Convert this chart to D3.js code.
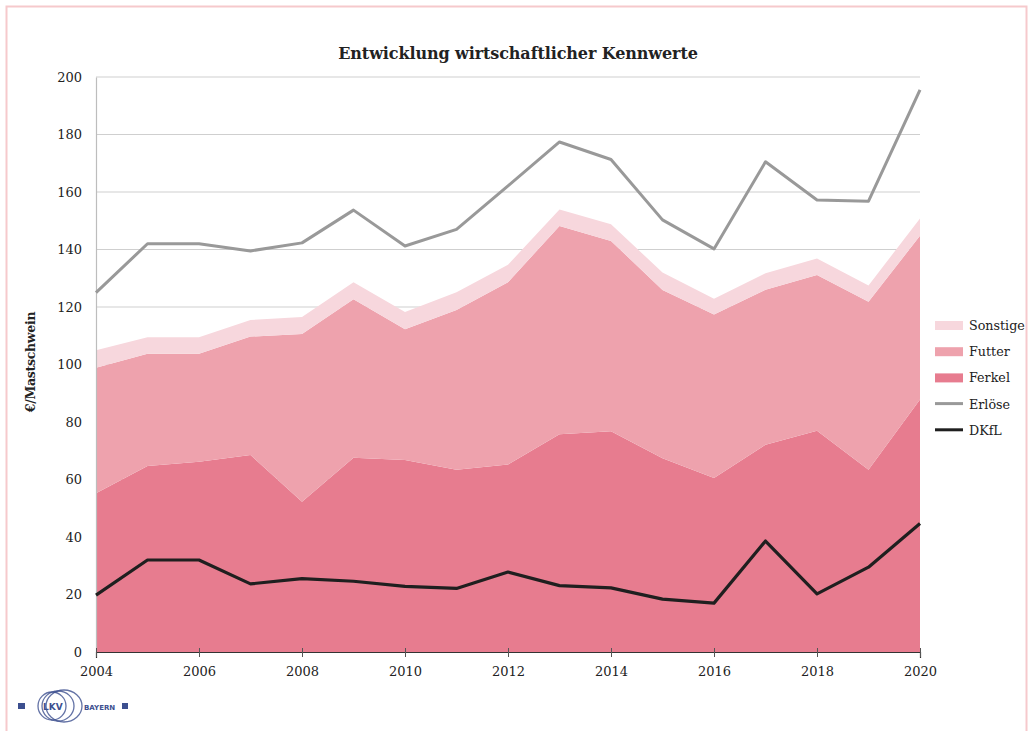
<!DOCTYPE html>
<html>
<head>
<meta charset="utf-8">
<script src="https://cdn.jsdelivr.net/npm/d3@7/dist/d3.min.js"></script>
<style>
  html, body { margin: 0; padding: 0; background: #fff; }
  svg text { font-family: "DejaVu Serif", "Liberation Serif", serif; fill: #222; }
</style>
</head>
<body>
<svg id="chart" width="1034" height="731"></svg>
<script>
// Jahreswerte in €/Mastschwein
const years    = [2004, 2005, 2006, 2007, 2008, 2009, 2010, 2011, 2012, 2013, 2014, 2015, 2016, 2017, 2018, 2019, 2020];
const ferkel   = [55.2, 64.7, 66.2, 68.5, 52.3, 67.6, 66.8, 63.4, 65.2, 75.7, 76.8, 67.4, 60.5, 72.1, 77.0, 63.4, 87.8];
const futter   = [43.7, 39.0, 37.5, 41.2, 58.3, 55.1, 45.5, 55.6, 63.4, 72.5, 66.2, 58.5, 56.9, 53.9, 54.1, 58.4, 57.0];
const sonstige = [6.1, 5.8, 5.8, 5.8, 5.9, 5.9, 6.0, 6.1, 6.1, 5.7, 5.8, 6.1, 5.5, 5.7, 5.8, 5.7, 6.0];
const erloese  = [125.0, 142.0, 142.0, 139.5, 142.3, 153.7, 141.2, 147.0, 162.1, 177.4, 171.3, 150.3, 140.2, 170.5, 157.2, 156.8, 195.5];
const dkfl     = [19.8, 32.0, 32.0, 23.7, 25.5, 24.6, 22.8, 22.1, 27.8, 23.1, 22.3, 18.4, 17.0, 38.6, 20.2, 29.5, 44.7];
const yTicks   = [0, 20, 40, 60, 80, 100, 120, 140, 160, 180, 200];
const xTicks   = [2004, 2006, 2008, 2010, 2012, 2014, 2016, 2018, 2020];

const title = "Entwicklung wirtschaftlicher Kennwerte";
const yLabel = "€/Mastschwein";

const colors = { Ferkel: "#e77c8f", Futter: "#eea2ad", Sonstige: "#f7d7dd", Erlöse: "#999999", DKfL: "#1f1f1f" };
const serif = "DejaVu Serif, Liberation Serif, serif";

const svg = d3.select("#chart");
const margin = { left: 96, right: 114, top: 77, bottom: 79 };
const W = 1034, H = 731;

const x = d3.scaleLinear().domain([2004, 2020]).range([margin.left, W - margin.right]);
const y = d3.scaleLinear().domain([0, 200]).range([H - margin.bottom, margin.top]);

// Rahmen
svg.append("rect")
  .attr("x", 6.5).attr("y", 6.5).attr("width", 1020).attr("height", 740)
  .attr("fill", "none").attr("stroke", "#f6c9cc").attr("stroke-width", 2);

// Titel
svg.append("text")
  .attr("x", 518).attr("y", 59)
  .attr("text-anchor", "middle")
  .attr("font-size", 16).attr("font-weight", "bold")
  .attr("letter-spacing", -0.1)
  .text(title);

// Gitterlinien
svg.append("g")
  .selectAll("line")
  .data(yTicks.filter(d => d > 0))
  .join("line")
  .attr("x1", x(2004)).attr("x2", x(2020))
  .attr("y1", d => y(d)).attr("y2", d => y(d))
  .attr("stroke", "#cfcfcf").attr("stroke-width", 1);

// Gestapelte Kostenflächen
const rows = years.map((yr, i) => ({ year: yr, Ferkel: ferkel[i], Futter: futter[i], Sonstige: sonstige[i] }));
const stack = d3.stack().keys(["Ferkel", "Futter", "Sonstige"]);
const layers = stack(rows);
const area = d3.area()
  .x(d => x(d.data.year))
  .y0(d => y(d[0]))
  .y1(d => y(d[1]));

svg.append("g")
  .selectAll("path")
  .data(layers)
  .join("path")
  .attr("d", area)
  .attr("fill", d => colors[d.key]);

// y-Achse
const yAxis = d3.axisLeft(y).tickValues(yTicks).tickSize(0).tickPadding(14);
const gy = svg.append("g").attr("transform", `translate(${x(2004)},0)`).call(yAxis);
gy.select(".domain").attr("stroke", "#bdbdbd").attr("stroke-width", 1.2);
gy.selectAll("text").attr("font-size", 13).attr("font-family", serif).attr("fill", "#222");

// x-Achse
const xAxis = d3.axisBottom(x).tickValues(xTicks).tickFormat(d3.format("d")).tickSize(6).tickPadding(9);
const gx = svg.append("g").attr("transform", `translate(0,${y(0)})`).call(xAxis);
gx.select(".domain").attr("stroke", "#333").attr("stroke-width", 1.2);
gx.selectAll(".tick line").attr("stroke", "#555").attr("y1", -4).attr("y2", 5);
gx.selectAll("text").attr("font-size", 13).attr("font-family", serif).attr("fill", "#222");

// Linien
const line = d3.line().x((d, i) => x(years[i])).y(d => y(d));
svg.append("path").datum(erloese).attr("d", line)
  .attr("fill", "none").attr("stroke", colors["Erlöse"]).attr("stroke-width", 3).attr("stroke-linejoin", "round");
svg.append("path").datum(dkfl).attr("d", line)
  .attr("fill", "none").attr("stroke", colors.DKfL).attr("stroke-width", 3.2).attr("stroke-linejoin", "round");

// y-Achsentitel
svg.append("text")
  .attr("transform", `translate(35,362) rotate(-90)`)
  .attr("text-anchor", "middle")
  .attr("font-size", 12.5).attr("font-weight", "bold")
  .attr("letter-spacing", -0.3)
  .text(yLabel);

// Legende
const legendItems = [
  { key: "Sonstige", type: "area" },
  { key: "Futter", type: "area" },
  { key: "Ferkel", type: "area" },
  { key: "Erlöse", type: "line" },
  { key: "DKfL", type: "line" }
];
const lg = svg.append("g").attr("transform", "translate(935,325)");
const li = lg.selectAll("g").data(legendItems).join("g")
  .attr("transform", (d, i) => `translate(0,${i * 26.2})`);
li.filter(d => d.type === "area").append("rect")
  .attr("x", 0).attr("y", -4).attr("width", 28).attr("height", 9)
  .attr("fill", d => colors[d.key]);
li.filter(d => d.type === "line").append("line")
  .attr("x1", 0).attr("x2", 28).attr("y1", 0).attr("y2", 0)
  .attr("stroke", d => colors[d.key]).attr("stroke-width", 3);
li.append("text")
  .attr("x", 34).attr("y", 5)
  .attr("font-size", 12.7)
  .text(d => d.key);

// Logo LKV Bayern
const logo = svg.append("g").attr("transform", "translate(18,706)");
const blue = "#3c4f8f";
[[34, 10, 14], [40, 12, 15], [46, 14, 16]].forEach(([cx, rx, ry]) => {
  logo.append("ellipse").attr("cx", cx).attr("cy", 0).attr("rx", rx + 4).attr("ry", ry)
    .attr("fill", "none").attr("stroke", blue).attr("stroke-width", 1.3).attr("opacity", 0.8);
});
logo.append("rect").attr("x", 0).attr("y", -3).attr("width", 7).attr("height", 6).attr("fill", blue);
logo.append("text").attr("x", 25).attr("y", 4).attr("font-size", 9).attr("font-weight", "bold")
  .style("font-family", "DejaVu Sans, sans-serif").style("fill", blue).text("LKV");
logo.append("text").attr("x", 66).attr("y", 3.5).attr("font-size", 7).attr("font-weight", "bold")
  .style("font-family", "DejaVu Sans, sans-serif").style("fill", blue).text("BAYERN");
logo.append("rect").attr("x", 104).attr("y", -3).attr("width", 6).attr("height", 6).attr("fill", blue);
</script>
</body>
</html>
